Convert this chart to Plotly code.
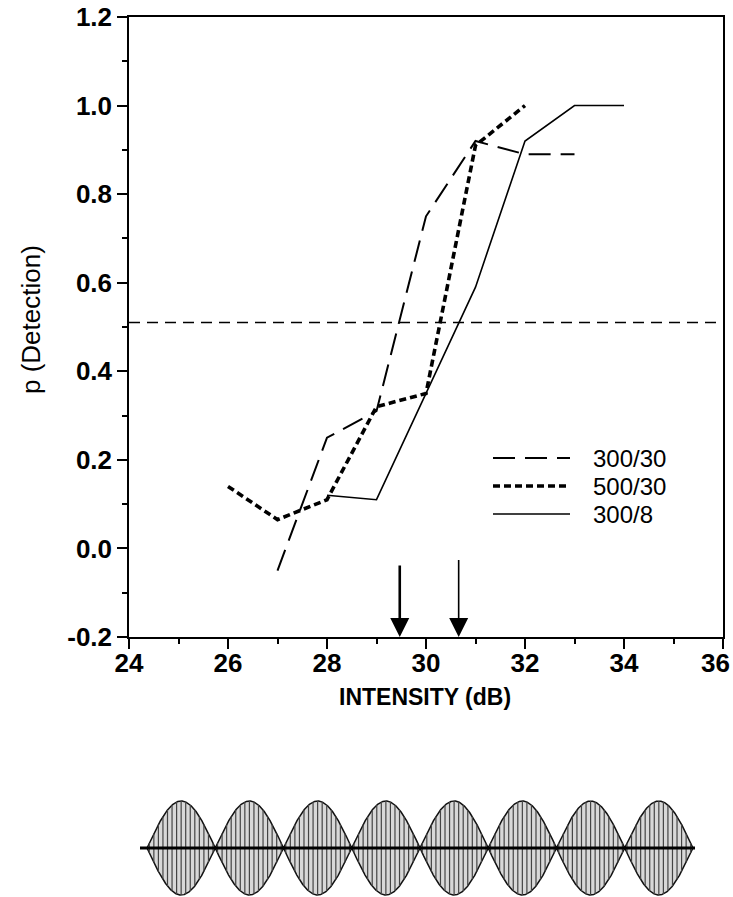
import numpy as np
import plotly.graph_objects as go

# p(detection) vs intensity, three stimulus conditions
int_300_30 = [27, 28, 29, 30, 31, 32, 33]
p_300_30 = [-0.05, 0.25, 0.31, 0.75, 0.92, 0.89, 0.89]

int_500_30 = [26, 27, 28, 29, 30, 31, 32]
p_500_30 = [0.14, 0.065, 0.11, 0.32, 0.35, 0.91, 1.0]

int_300_8 = [28, 29, 30, 31, 32, 33, 34]
p_300_8 = [0.12, 0.11, 0.35, 0.59, 0.92, 1.0, 1.0]

legend_labels = ["300/30", "500/30", "300/8"]

criterion = 0.51                 # horizontal dashed line
threshold_x = [29.47, 30.66]     # arrows
arrow_tail = [-0.035, -0.023]
arrow_width = [2.6, 1.6]

x_ticks = [24, 26, 28, 30, 32, 34, 36]
x_tick_text = ["24", "26", "28", "30", "32", "34", ""]   # "36" drawn as annotation (edge)
y_ticks = [-0.2, 0.0, 0.2, 0.4, 0.6, 0.8, 1.0, 1.2]
y_tick_text = ["-0.2", "0.0", "0.2", "0.4", "0.6", "0.8", "1.0", "1.2"]

# stimulus sketch: 8 amplitude-modulated bursts
n_lobes = 8
lines_per_lobe = 15

styles = [
    dict(color="black", width=2, dash="22px,10px"),
    dict(color="black", width=3.6, dash="7px,4px"),
    dict(color="black", width=1.6),
]

fig = go.Figure()

for xs, ys, name, st in zip([int_300_30, int_500_30, int_300_8],
                            [p_300_30, p_500_30, p_300_8],
                            legend_labels, styles):
    fig.add_trace(go.Scatter(x=xs, y=ys, mode="lines", name=name, line=st,
                             showlegend=False, xaxis="x", yaxis="y"))

fig.add_trace(go.Scatter(x=[24, 36], y=[criterion, criterion], mode="lines",
                         line=dict(color="black", width=1.5, dash="11px,7px"),
                         showlegend=False, xaxis="x", yaxis="y"))

# waveform sketch
t = np.linspace(0, n_lobes, 1601)
env = np.abs(np.sin(np.pi * t))
fig.add_trace(go.Scatter(x=np.concatenate([t, t[::-1]]),
                         y=np.concatenate([env, -env[::-1]]),
                         fill="toself", fillcolor="#d8d8d8", mode="lines",
                         line=dict(color="#111", width=1.5),
                         showlegend=False, xaxis="x2", yaxis="y2"))
vx, vy = [], []
for xv in np.arange(0.5 / lines_per_lobe, n_lobes, 1.0 / lines_per_lobe):
    a = abs(np.sin(np.pi * xv))
    vx += [xv, xv, None]
    vy += [-a, a, None]
fig.add_trace(go.Scatter(x=vx, y=vy, mode="lines",
                         line=dict(color="#444", width=1.2),
                         showlegend=False, xaxis="x2", yaxis="y2"))
fig.add_trace(go.Scatter(x=[-0.103, n_lobes + 0.03], y=[0, 0], mode="lines",
                         line=dict(color="black", width=3),
                         showlegend=False, xaxis="x2", yaxis="y2"))

# arrows marking thresholds
for xv, tail, w in zip(threshold_x, arrow_tail, arrow_width):
    fig.add_annotation(x=xv, y=-0.2, ax=xv, ay=tail, xref="x", yref="y",
                       axref="x", ayref="y", text="", showarrow=True,
                       arrowhead=2, arrowsize=3.8 / w, arrowwidth=w,
                       arrowcolor="black")

# hand-made legend
leg_y = [458, 486, 514]
for lab, st, py in zip(legend_labels, styles, leg_y):
    yp = (897 - py) / 880
    fig.add_shape(type="line", xref="paper", yref="paper",
                  x0=(493 - 129) / 594, x1=(570 - 129) / 594, y0=yp, y1=yp,
                  line=st)
    fig.add_annotation(x=(591 - 129) / 594, y=yp, xref="paper", yref="paper",
                       text=lab, showarrow=False, xanchor="left", yanchor="middle",
                       font=dict(family="Liberation Sans", size=24, color="black"))

tickfont = dict(family="Liberation Sans", size=26, color="black", weight="bold")

# last x tick label sits against the right edge
fig.add_annotation(x=(732 - 129) / 594, y=(897 - 663) / 880, xref="paper", yref="paper",
                   text="36", showarrow=False, xanchor="right", yanchor="middle",
                   font=tickfont)

fig.add_annotation(x=(31 - 129) / 594, y=(897 - 320) / 880, xref="paper", yref="paper",
                   text="p (Detection)", textangle=-90, showarrow=False,
                   xanchor="center", yanchor="middle",
                   font=dict(family="Liberation Sans", size=26, color="black"))
fig.add_annotation(x=(425 - 129) / 594, y=(897 - 697) / 880, xref="paper", yref="paper",
                   text="INTENSITY (dB)", showarrow=False,
                   xanchor="center", yanchor="middle",
                   font=dict(family="Liberation Sans", size=23, color="black", weight="bold"))

fig.update_layout(
    template="none",
    width=733, height=897,
    margin=dict(l=129, r=10, t=17, b=0),
    paper_bgcolor="white", plot_bgcolor="white",
    xaxis=dict(range=[24, 36], tickvals=x_ticks, ticktext=x_tick_text, domain=[0, 1], anchor="y",
               automargin=False, ticklabeloverflow="allow", ticklabelstandoff=-8,
               ticks="outside", ticklen=10, tickwidth=1.5, tickcolor="black",
               minor=dict(dtick=1, ticks="outside", ticklen=5, tickwidth=1.5, tickcolor="black"),
               showline=True, linecolor="black", linewidth=1.5, mirror=True,
               showgrid=False, zeroline=False, tickfont=tickfont),
    yaxis=dict(range=[-0.2, 1.2], tickvals=y_ticks, ticktext=y_tick_text,
               domain=[(897 - 637) / 880, 1], anchor="x",
               automargin=False, ticklabeloverflow="allow",
               ticks="outside", ticklen=10, tickwidth=1.5, tickcolor="black",
               minor=dict(dtick=0.1, ticks="outside", ticklen=5, tickwidth=1.5, tickcolor="black"),
               showline=True, linecolor="black", linewidth=1.5, mirror=True,
               showgrid=False, zeroline=False, tickfont=tickfont),
    xaxis2=dict(range=[-0.103, n_lobes + 0.03], domain=[11 / 594, 566 / 594],
                anchor="y2", visible=False, automargin=False),
    yaxis2=dict(range=[-49 / 47, 58 / 47], domain=[0, 107 / 880],
                anchor="x2", visible=False, automargin=False),
)

fig.write_html("out.html", config={"displayModeBar": False},
               post_script="document.body.style.margin='0px';")
